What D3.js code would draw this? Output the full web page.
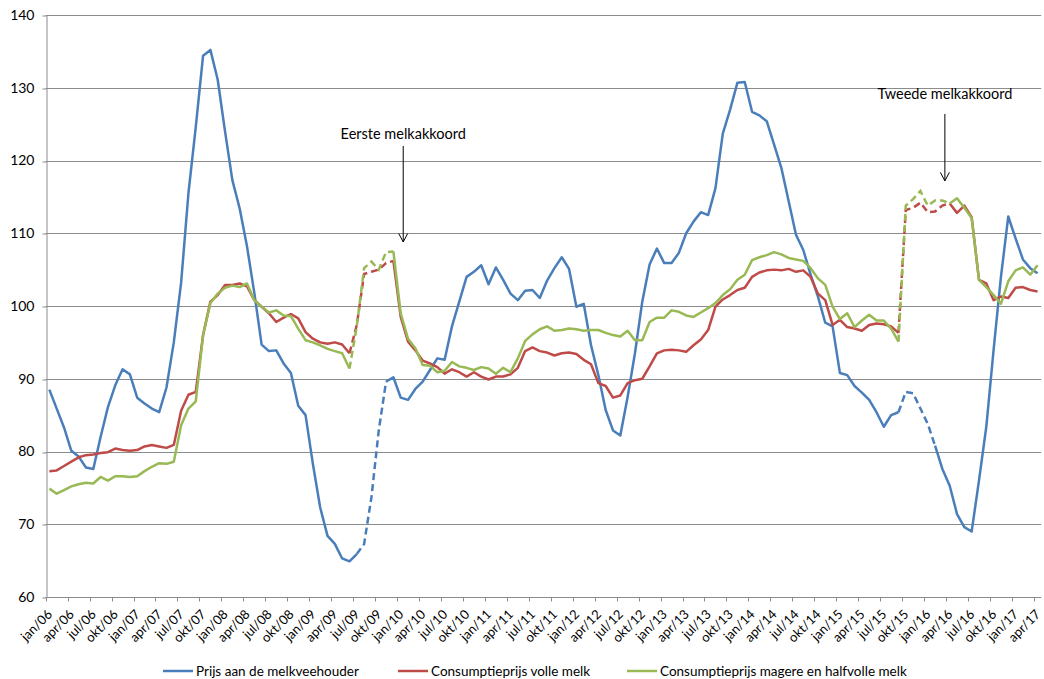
<!DOCTYPE html>
<html>
<head>
<meta charset="utf-8">
<script src="https://cdn.jsdelivr.net/npm/d3@7"></script>
<style>
  body { margin: 0; background: #fff; }
  svg { display: block; font-family: Lato, "Open Sans", sans-serif; }
</style>
</head>
<body>
<script>
const width = 1044;
const height = 679;
const margin = {top: 15, right: 2.8, bottom: 82, left: 45.7};

// months jan/06 .. apr/17
const monthNames = ['jan','feb','mrt','apr','mei','jun','jul','aug','sep','okt','nov','dec'];
const categories = [];
for (let yr = 2006; yr <= 2017; yr++) {
  for (let m = 0; m < 12; m++) {
    if (categories.length < 136) categories.push(monthNames[m] + '/' + String(yr).slice(2));
  }
}

const yTicks = [60, 70, 80, 90, 100, 110, 120, 130, 140];

// Prijs aan de melkveehouder
const prijsBoer = [
  88.5, 85.9, 83.3, 80.1, 79.3, 77.8, 77.6, 82.0, 86.1, 89.1, 91.3, 90.6,
  87.4, 86.6, 85.9, 85.4, 88.8, 95.0, 103.2, 115.5, 124.6, 134.4, 135.2, 131.1,
  124.0, 117.3, 113.4, 108.2, 101.8, 94.7, 93.8, 93.9, 92.1, 90.8, 86.3, 85.0,
  78.3, 72.3, 68.4, 67.3, 65.3, 64.9, 65.9, 67.3, 73.7, 82.9, 89.6, 90.2,
  87.4, 87.1, 88.6, 89.6, 91.2, 92.8, 92.6, 97.2, 100.6, 104.0, 104.7, 105.6,
  103.0, 105.3, 103.6, 101.7, 100.8, 102.1, 102.2, 101.1, 103.5, 105.2, 106.7, 105.1,
  99.9, 100.3, 94.6, 90.5, 85.7, 82.9, 82.2, 87.5, 93.5, 100.6, 105.7, 107.9,
  105.9, 105.9, 107.3, 110.0, 111.6, 112.9, 112.5, 116.2, 123.7, 127.0, 130.7, 130.8,
  126.7, 126.2, 125.4, 122.2, 119.0, 114.4, 109.8, 107.7, 104.3, 101.3, 97.7, 97.2,
  90.8, 90.5, 89.0, 88.1, 87.1, 85.4, 83.4, 85.0, 85.4, 88.2, 88.0, 85.9,
  83.8, 80.8, 77.6, 75.3, 71.4, 69.6, 69.0, 76.0, 83.4, 94.0, 104.0, 112.3,
  109.3, 106.4, 105.2, 104.5
];

// Consumptieprijs volle melk
const volleMelk = [
  77.3, 77.4, 78.0, 78.6, 79.2, 79.5, 79.6, 79.8, 79.9, 80.4, 80.2, 80.1,
  80.2, 80.7, 80.9, 80.7, 80.5, 80.9, 85.6, 87.8, 88.2, 96.0, 100.6, 101.5,
  102.9, 102.9, 103.1, 102.7, 100.8, 99.9, 99.0, 97.8, 98.4, 98.9, 98.3, 96.4,
  95.5, 95.0, 94.8, 95.0, 94.7, 93.5, 97.4, 104.4, 104.7, 105.0, 105.9, 106.2,
  98.5, 95.1, 93.9, 92.5, 92.1, 91.6, 90.7, 91.3, 90.9, 90.3, 90.9, 90.3,
  89.9, 90.3, 90.3, 90.6, 91.5, 93.8, 94.3, 93.8, 93.6, 93.2, 93.5, 93.6,
  93.4, 92.6, 92.0, 89.4, 89.0, 87.4, 87.7, 89.4, 89.8, 90.0, 91.7, 93.5,
  93.9, 94.0, 93.9, 93.7, 94.6, 95.4, 96.7, 99.9, 100.9, 101.5, 102.2, 102.5,
  104.0, 104.6, 104.9, 105.0, 104.9, 105.1, 104.7, 104.9, 104.0, 101.7, 100.8, 97.4,
  98.1, 97.1, 96.9, 96.6, 97.4, 97.6, 97.5, 97.2, 96.3, 113.2, 113.5, 114.2,
  112.9, 113.0, 113.8, 114.1, 112.8, 113.8, 112.2, 103.6, 103.1, 100.8, 101.3, 101.1,
  102.5, 102.6, 102.2, 102.0
];

// Consumptieprijs magere en halfvolle melk
const halfvolleMelk = [
  74.9, 74.2, 74.7, 75.2, 75.5, 75.7, 75.6, 76.5, 76.0, 76.6, 76.6, 76.5,
  76.6, 77.3, 77.9, 78.4, 78.3, 78.6, 83.6, 85.9, 86.9, 96.0, 100.4, 101.7,
  102.5, 102.8, 102.6, 103.1, 100.8, 99.9, 99.1, 99.4, 98.7, 98.6, 96.9, 95.3,
  95.0, 94.6, 94.1, 93.8, 93.5, 91.4, 97.2, 105.2, 106.1, 105.0, 107.4, 107.5,
  99.0, 95.5, 94.2, 91.9, 91.8, 90.9, 91.1, 92.3, 91.7, 91.5, 91.2, 91.6,
  91.4, 90.7, 91.5, 90.9, 92.8, 95.2, 96.1, 96.8, 97.2, 96.6, 96.7, 96.9,
  96.8, 96.6, 96.7, 96.7, 96.3, 96.0, 95.8, 96.6, 95.3, 95.3, 97.8, 98.4,
  98.4, 99.4, 99.2, 98.7, 98.5, 99.1, 99.7, 100.4, 101.5, 102.3, 103.6, 104.3,
  106.3, 106.7, 107.0, 107.4, 107.1, 106.6, 106.4, 106.2, 105.2, 103.8, 102.9, 99.9,
  98.2, 99.0, 97.1, 98.0, 98.8, 98.0, 98.0, 96.9, 95.1, 113.8, 114.7, 115.8,
  113.8, 114.5, 114.5, 114.1, 114.8, 113.5, 112.1, 103.6, 102.6, 101.5, 100.3, 103.4,
  104.9, 105.3, 104.3, 105.6
];

// dashed stretches (start month, end month)
const blueDashed = [['jul/09', 'nov/09'], ['sep/15', 'feb/16']];
const milkDashed = [['jun/09', 'dec/09'], ['sep/15', 'apr/16']];

const series = [
  {name: 'Prijs aan de melkveehouder', values: prijsBoer, color: '#4A7EBB', dashed: blueDashed},
  {name: 'Consumptieprijs volle melk', values: volleMelk, color: '#BE4B48', dashed: milkDashed},
  {name: 'Consumptieprijs magere en halfvolle melk', values: halfvolleMelk, color: '#98B954', dashed: milkDashed}
];

const annotations = [
  {label: 'Eerste melkakkoord', month: 'jan/10', textY: 123.0, from: 122.0, to: 108.8},
  {label: 'Tweede melkakkoord', month: 'mrt/16', textY: 128.5, from: 126.4, to: 117.2}
];

const svg = d3.select('body').append('svg')
  .attr('width', width)
  .attr('height', height);

const x = d3.scaleBand()
  .domain(categories)
  .range([margin.left, width - margin.right])
  .padding(0);

const cx = c => x(c) + x.bandwidth() / 2;

const y = d3.scaleLinear()
  .domain([60, 140])
  .range([height - margin.bottom, margin.top]);

// gridlines
svg.append('g')
  .selectAll('line')
  .data(yTicks)
  .enter().append('line')
  .attr('x1', margin.left)
  .attr('x2', width - margin.right)
  .attr('y1', d => Math.round(y(d)) + 0.5)
  .attr('y2', d => Math.round(y(d)) + 0.5)
  .attr('stroke', '#8c8c8c')
  .attr('stroke-width', 1);

// y axis
const yAxis = svg.append('g')
  .attr('transform', 'translate(' + (Math.round(margin.left) + 0.5) + ',0)')
  .call(d3.axisLeft(y).tickValues(yTicks).tickSize(4).tickSizeOuter(0).tickPadding(8));
yAxis.select('.domain').attr('stroke', '#8c8c8c');
yAxis.selectAll('.tick line').attr('stroke', '#8c8c8c')
  .attr('transform', d => 'translate(0,' + (Math.round(y(d)) + 0.5 - y(d)) + ')');
yAxis.selectAll('.tick text')
  .attr('font-size', '14px')
  .attr('font-family', 'Lato, sans-serif')
  .attr('fill', '#000');

// x axis: ticks between categories every 3 months
const base = Math.round(y(60)) + 0.5;
const quarterCats = categories.filter((c, i) => i % 3 === 0);
const xAxis = svg.append('g');
xAxis.append('line')
  .attr('x1', margin.left).attr('x2', width - margin.right)
  .attr('y1', base).attr('y2', base)
  .attr('stroke', '#8c8c8c');
xAxis.selectAll('.xt')
  .data(quarterCats)
  .enter().append('line')
  .attr('class', 'xt')
  .attr('x1', d => Math.round(x(d)) + 0.5)
  .attr('x2', d => Math.round(x(d)) + 0.5)
  .attr('y1', base).attr('y2', base + 4)
  .attr('stroke', '#8c8c8c');
xAxis.selectAll('.xl')
  .data(quarterCats)
  .enter().append('text')
  .attr('class', 'xl')
  .attr('transform', d => 'translate(' + (cx(d) - 3) + ',' + (base + 11) + ') rotate(-45)')
  .attr('text-anchor', 'end')
  .attr('dy', '0.72em')
  .attr('font-size', '13px')
  .attr('fill', '#000')
  .text(d => d);

// lines
const idx = c => categories.indexOf(c);
series.forEach(s => {
  const pts = s.values.map((v, i) => ({c: categories[i], i: i, v: v}));
  const ranges = s.dashed.map(r => [idx(r[0]), idx(r[1])]);
  const inside = i => ranges.some(r => i > r[0] && i < r[1]);

  const solid = d3.line()
    .defined(d => !inside(d.i))
    .x(d => cx(d.c))
    .y(d => y(d.v));

  svg.append('path')
    .datum(pts)
    .attr('fill', 'none')
    .attr('stroke', s.color)
    .attr('stroke-width', 2.5)
    .attr('stroke-linejoin', 'round')
    .attr('d', solid);

  ranges.forEach(r => {
    svg.append('path')
      .datum(pts.slice(r[0], r[1] + 1))
      .attr('fill', 'none')
      .attr('stroke', s.color)
      .attr('stroke-width', 2.5)
      .attr('stroke-dasharray', '7,4')
      .attr('d', d3.line().x(d => cx(d.c)).y(d => y(d.v)));
  });
});

// annotations
annotations.forEach(a => {
  const ax = cx(a.month) + 2.5;
  svg.append('text')
    .attr('x', ax)
    .attr('y', y(a.textY))
    .attr('text-anchor', 'middle')
    .attr('font-size', '14.5px')
    .attr('fill', '#000')
    .text(a.label);
  svg.append('line')
    .attr('x1', ax).attr('x2', ax)
    .attr('y1', y(a.from)).attr('y2', y(a.to))
    .attr('stroke', '#000').attr('stroke-width', 1);
  svg.append('path')
    .attr('d', 'M' + (ax - 4.5) + ',' + (y(a.to) - 8.5) + 'L' + ax + ',' + y(a.to) + 'L' + (ax + 4.5) + ',' + (y(a.to) - 8.5))
    .attr('fill', 'none')
    .attr('stroke', '#000').attr('stroke-width', 1);
});

// legend
const legendX = [163, 398, 627];
const legend = svg.append('g');
series.forEach((s, i) => {
  legend.append('line')
    .attr('x1', legendX[i]).attr('x2', legendX[i] + 30)
    .attr('y1', 671).attr('y2', 671)
    .attr('stroke', s.color).attr('stroke-width', 2.5);
  legend.append('text')
    .attr('x', legendX[i] + 33)
    .attr('y', 671)
    .attr('dy', '0.35em')
    .attr('font-size', '13.5px')
    .attr('fill', '#000')
    .text(s.name);
});
</script>
</body>
</html>
